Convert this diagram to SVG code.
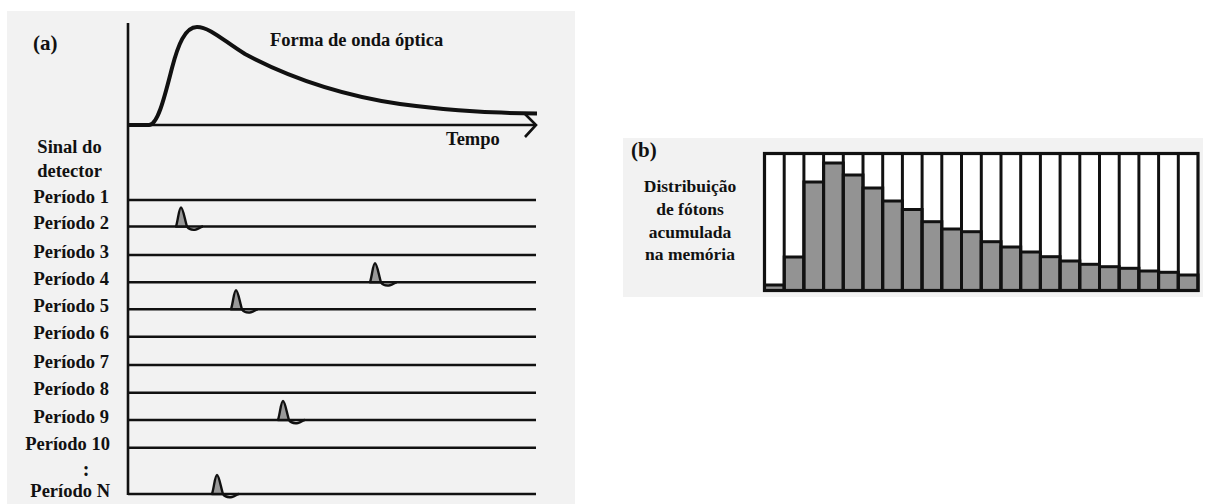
<svg xmlns="http://www.w3.org/2000/svg" width="1214" height="504" viewBox="0 0 1214 504">
<style>
  .t { font-family: "Liberation Serif", "DejaVu Serif", serif; font-weight: bold; fill: #111; }
  .lbl { font-size: 18.5px; text-anchor: end; }
  .ln { stroke: #111; stroke-width: 2.6; fill: none; }
  .bar { fill: #939393; stroke: #111; stroke-width: 3; }
  .sep { stroke: #111; stroke-width: 3; }
</style>
<defs>
  <g id="pulse">
    <path d="M-5,0 C-3,-6 -2,-19 0,-19 C2,-19 4,-6 6,0 Z" fill="#999" stroke="#111" stroke-width="2.4" stroke-linejoin="round"/>
    <path d="M6,0 C8,3 12,3.5 15,3 C18,2.5 20,0 22,0" fill="none" stroke="#111" stroke-width="2.4"/>
  </g>
</defs>
<rect width="1214" height="504" fill="#ffffff"/>

<g id="panel-a" font-family="Liberation Serif, DejaVu Serif, serif">
  <rect x="7" y="11" width="568" height="493" fill="#f2f2f2"/>
  <text class="t" x="33" y="50" font-size="21">(a)</text>
  <text class="t" x="270" y="46" font-size="18.5">Forma de onda óptica</text>
  <text class="t" x="446" y="145" font-size="18.5">Tempo</text>
  <text class="t" x="69.5" y="153" font-size="18.5" text-anchor="middle">Sinal do</text>
  <text class="t" x="69.5" y="177" font-size="18.5" text-anchor="middle">detector</text>

  <g id="axes">
    <line class="ln" x1="128" y1="23" x2="128" y2="495"/>
    <line class="ln" x1="128" y1="125" x2="536" y2="125"/>
    <polyline class="ln" points="525,114 536,125 525,137"/>
  </g>
  <path id="waveform" d="M128,125 L149,125 C158,125 165,95 172,68 C178,45 185,27 197,27 C210,27 225,42 245,54 C290,78 340,95 400,104 C460,112 500,113 537,113.5" fill="none" stroke="#111" stroke-width="4"/>

  <g id="periods">
    <line class="ln" x1="128" y1="200" x2="536" y2="200"/>
    <line class="ln" x1="128" y1="226.5" x2="536" y2="226.5"/>
    <line class="ln" x1="128" y1="255" x2="536" y2="255"/>
    <line class="ln" x1="128" y1="282.3" x2="536" y2="282.3"/>
    <line class="ln" x1="128" y1="309.3" x2="536" y2="309.3"/>
    <line class="ln" x1="128" y1="336.7" x2="536" y2="336.7"/>
    <line class="ln" x1="128" y1="365" x2="536" y2="365"/>
    <line class="ln" x1="128" y1="392.7" x2="536" y2="392.7"/>
    <line class="ln" x1="128" y1="420" x2="536" y2="420"/>
    <line class="ln" x1="128" y1="447.7" x2="536" y2="447.7"/>
    <line class="ln" x1="128" y1="494" x2="536" y2="494"/>
  </g>
  <g id="period-labels">
    <text class="t lbl" x="109" y="202.5">Período 1</text>
    <text class="t lbl" x="109" y="229">Período 2</text>
    <text class="t lbl" x="109" y="257.5">Período 3</text>
    <text class="t lbl" x="109" y="284.8">Período 4</text>
    <text class="t lbl" x="109" y="311.8">Período 5</text>
    <text class="t lbl" x="109" y="339.2">Período 6</text>
    <text class="t lbl" x="109" y="367.5">Período 7</text>
    <text class="t lbl" x="109" y="395.2">Período 8</text>
    <text class="t lbl" x="109" y="422.5">Período 9</text>
    <text class="t lbl" x="110" y="450.2">Período 10</text>
    <text class="t" x="86" y="476" font-size="20" text-anchor="middle">:</text>
    <text class="t lbl" x="110" y="496.5">Período N</text>
  </g>
  <g id="pulses">
    <use href="#pulse" transform="translate(181,226.5)"/>
    <use href="#pulse" transform="translate(375,282.3)"/>
    <use href="#pulse" transform="translate(236,309.3)"/>
    <use href="#pulse" transform="translate(283,420)"/>
    <use href="#pulse" transform="translate(217,494)"/>
  </g>
</g>

<g id="panel-b" font-family="Liberation Serif, DejaVu Serif, serif">
  <rect x="623" y="138" width="580" height="159" fill="#f2f2f2"/>
  <text class="t" x="631" y="157" font-size="21">(b)</text>
  <g font-size="17.5" text-anchor="middle">
    <text class="t" x="690" y="192">Distribuição</text>
    <text class="t" x="690" y="215">de fótons</text>
    <text class="t" x="690" y="238">acumulada</text>
    <text class="t" x="690" y="260">na memória</text>
  </g>
  <g id="histogram">
    <rect x="764.5" y="153.5" width="433.5" height="137" fill="#ffffff"/>
    <rect class="bar" x="764.5" y="285" width="19.7" height="5.5"/>
    <rect class="bar" x="784.2" y="257" width="19.7" height="33.5"/>
    <rect class="bar" x="803.9" y="182" width="19.7" height="108.5"/>
    <rect class="bar" x="823.6" y="163" width="19.7" height="127.5"/>
    <rect class="bar" x="843.3" y="175" width="19.7" height="115.5"/>
    <rect class="bar" x="863.0" y="188" width="19.7" height="102.5"/>
    <rect class="bar" x="882.7" y="201" width="19.7" height="89.5"/>
    <rect class="bar" x="902.4" y="209.5" width="19.7" height="81"/>
    <rect class="bar" x="922.1" y="221.7" width="19.7" height="68.8"/>
    <rect class="bar" x="941.8" y="229" width="19.7" height="61.5"/>
    <rect class="bar" x="961.5" y="231.7" width="19.7" height="58.8"/>
    <rect class="bar" x="981.3" y="241.7" width="19.7" height="48.8"/>
    <rect class="bar" x="1001.0" y="247" width="19.7" height="43.5"/>
    <rect class="bar" x="1020.7" y="252" width="19.7" height="38.5"/>
    <rect class="bar" x="1040.4" y="256.7" width="19.7" height="33.8"/>
    <rect class="bar" x="1060.1" y="261" width="19.7" height="29.5"/>
    <rect class="bar" x="1079.8" y="264.3" width="19.7" height="26.2"/>
    <rect class="bar" x="1099.5" y="266.7" width="19.7" height="23.8"/>
    <rect class="bar" x="1119.2" y="268.3" width="19.7" height="22.2"/>
    <rect class="bar" x="1138.9" y="271" width="19.7" height="19.5"/>
    <rect class="bar" x="1158.6" y="272.3" width="19.7" height="18.2"/>
    <rect class="bar" x="1178.3" y="275" width="19.7" height="15.5"/>
    <g class="sep">
      <line x1="784.2" y1="153.5" x2="784.2" y2="290.5"/>
      <line x1="803.9" y1="153.5" x2="803.9" y2="290.5"/>
      <line x1="823.6" y1="153.5" x2="823.6" y2="290.5"/>
      <line x1="843.3" y1="153.5" x2="843.3" y2="290.5"/>
      <line x1="863.0" y1="153.5" x2="863.0" y2="290.5"/>
      <line x1="882.7" y1="153.5" x2="882.7" y2="290.5"/>
      <line x1="902.4" y1="153.5" x2="902.4" y2="290.5"/>
      <line x1="922.1" y1="153.5" x2="922.1" y2="290.5"/>
      <line x1="941.8" y1="153.5" x2="941.8" y2="290.5"/>
      <line x1="961.5" y1="153.5" x2="961.5" y2="290.5"/>
      <line x1="981.3" y1="153.5" x2="981.3" y2="290.5"/>
      <line x1="1001.0" y1="153.5" x2="1001.0" y2="290.5"/>
      <line x1="1020.7" y1="153.5" x2="1020.7" y2="290.5"/>
      <line x1="1040.4" y1="153.5" x2="1040.4" y2="290.5"/>
      <line x1="1060.1" y1="153.5" x2="1060.1" y2="290.5"/>
      <line x1="1079.8" y1="153.5" x2="1079.8" y2="290.5"/>
      <line x1="1099.5" y1="153.5" x2="1099.5" y2="290.5"/>
      <line x1="1119.2" y1="153.5" x2="1119.2" y2="290.5"/>
      <line x1="1138.9" y1="153.5" x2="1138.9" y2="290.5"/>
      <line x1="1158.6" y1="153.5" x2="1158.6" y2="290.5"/>
      <line x1="1178.3" y1="153.5" x2="1178.3" y2="290.5"/>
    </g>
    <rect x="764.5" y="153.5" width="433.5" height="137" fill="none" stroke="#111" stroke-width="3.2"/>
  </g>
</g>
</svg>
